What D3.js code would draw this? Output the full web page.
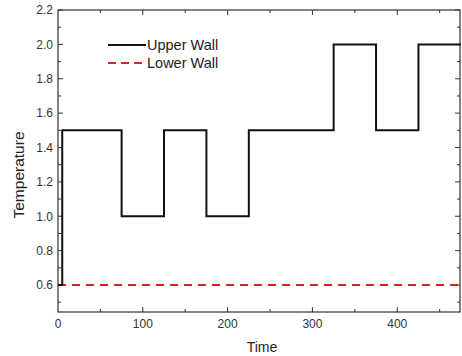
<!DOCTYPE html>
<html><head><meta charset="utf-8">
<script src="https://cdn.jsdelivr.net/npm/d3@7"></script>
<style>body{margin:0;background:#fff}svg{display:block}text{font-family:"Liberation Sans",Arial,sans-serif}</style>
</head><body>
<script>
const upperTime = [0, 5, 75, 125, 175, 225, 325, 375, 425, 475];
const upperTemp = [0.6, 1.5, 1.0, 1.5, 1.0, 1.5, 2.0, 1.5, 2.0, 2.0];
const lowerTime = [0, 475];
const lowerTemp = [0.6, 0.6];
const xTicks = [0, 100, 200, 300, 400];
const yTicks = [0.6, 0.8, 1.0, 1.2, 1.4, 1.6, 1.8, 2.0, 2.2];
const seriesNames = ["Upper Wall", "Lower Wall"];

const W = 462, H = 356;
const m = {l: 58, r: 2, t: 10, b: 44};
const svg = d3.select("body").append("svg").attr("width", W).attr("height", H);
const x = d3.scaleLinear().domain([0, 474]).range([m.l, W - m.r]);
const y = d3.scaleLinear().domain([0.443, 2.2]).range([H - m.b, m.t]);
const axisCol = "#333", txtCol = "#333";

// frame
svg.append("rect").attr("x", x(0)).attr("y", y(2.2)).attr("width", x(474) - x(0)).attr("height", y(0.443) - y(2.2))
  .attr("fill", "none").attr("stroke", axisCol).attr("stroke-width", 1.2);

const xMinor = d3.range(50, 474, 100);
const yMinor = d3.range(0.5, 2.2, 0.2);
const g = svg.append("g");
xTicks.concat(xMinor).forEach(v => {
  const len = xTicks.includes(v) ? 5 : 3;
  if (v === 0) return;
  g.append("line").attr("x1", x(v)).attr("x2", x(v)).attr("y1", y(0.443)).attr("y2", y(0.443) - len).attr("stroke", axisCol);
  g.append("line").attr("x1", x(v)).attr("x2", x(v)).attr("y1", y(2.2)).attr("y2", y(2.2) + len).attr("stroke", axisCol);
});
yTicks.concat(yMinor).forEach(v => {
  const major = yTicks.some(t => Math.abs(t - v) < 1e-6);
  const len = major ? 5 : 3;
  g.append("line").attr("x1", x(0)).attr("x2", x(0) + len).attr("y1", y(v)).attr("y2", y(v)).attr("stroke", axisCol);
  g.append("line").attr("x1", x(474)).attr("x2", x(474) - len).attr("y1", y(v)).attr("y2", y(v)).attr("stroke", axisCol);
});
// tick labels
svg.selectAll(".xl").data(xTicks).join("text").attr("x", d => x(d)).attr("y", y(0.443) + 15.5)
  .attr("text-anchor", "middle").attr("font-size", 12).attr("fill", txtCol).text(d => d);
svg.selectAll(".yl").data(yTicks).join("text").attr("x", x(0) - 5).attr("y", d => y(d) + 4.3)
  .attr("text-anchor", "end").attr("font-size", 12).attr("fill", txtCol).text(d => d.toFixed(1));
// axis titles
svg.append("text").attr("x", 262).attr("y", 352).attr("text-anchor", "middle").attr("font-size", 14).attr("fill", "#222").text("Time");
svg.append("text").attr("transform", `translate(24,175) rotate(-90)`).attr("text-anchor", "middle")
  .attr("font-size", 15.5).attr("fill", "#222").text("Temperature");

// lines
const upper = upperTime.map((t, i) => [t, upperTemp[i]]);
const lower = lowerTime.map((t, i) => [t, lowerTemp[i]]);
const stepLine = d3.line().x(d => x(d[0])).y(d => y(d[1])).curve(d3.curveStepAfter);
svg.append("path").attr("d", d3.line().x(d => x(d[0])).y(d => y(d[1]))(lower)).attr("fill", "none")
  .attr("stroke", "#e0202a").attr("stroke-width", 2).attr("stroke-dasharray", "8,6");
svg.append("path").attr("d", stepLine(upper)).attr("fill", "none").attr("stroke", "#111").attr("stroke-width", 2);

// legend
const leg = svg.append("g");
[["#111", null], ["#e0202a", "8,5"]].forEach((s, i) => {
  const yy = 45 + i * 18;
  leg.append("line").attr("x1", 108).attr("x2", 146).attr("y1", yy).attr("y2", yy).attr("stroke", s[0]).attr("stroke-width", 2)
    .attr("stroke-dasharray", s[1]);
  leg.append("text").attr("x", 147).attr("y", yy + 5).attr("font-size", 14.5).attr("fill", "#222").text(seriesNames[i]);
});
</script>
</body></html>
